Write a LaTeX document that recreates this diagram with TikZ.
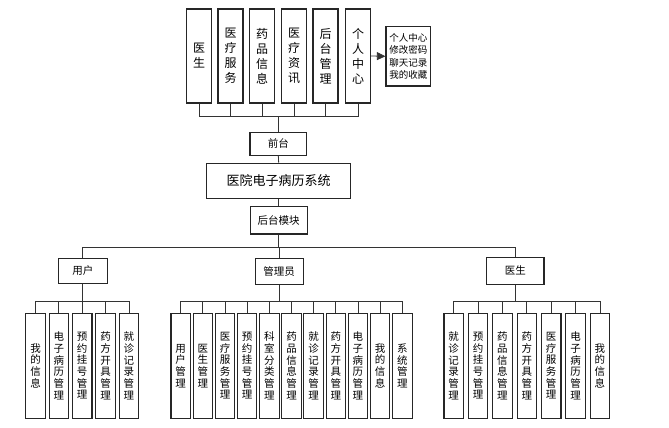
\documentclass[tikz,border=0pt]{standalone}
\usepackage{fontspec}
\setmainfont{Noto Sans CJK SC}
\usetikzlibrary{arrows.meta}
\begin{document}
\begin{tikzpicture}[x=1pt,y=-1pt,
  box/.style={draw=black!85,line width=1.1pt,fill=white,inner sep=0pt,align=center},
  topbox/.style={box,minimum width=25pt,minimum height=94pt,font=\fontsize{12}{15}\selectfont},
  vbox/.style={box,minimum width=19.5pt,minimum height=105pt,font=\fontsize{10.5}{11.7}\selectfont},
  midbox/.style={box,font=\fontsize{10.5}{12}\selectfont},
  conn/.style={draw=black!80,line width=0.8pt},
]
\useasboundingbox (0,0) rectangle (669,428);
% top row
\node[topbox] (t1) at (199,56) {医\\生};
\node[topbox] (t2) at (230.5,56) {医\\疗\\服\\务};
\node[topbox] (t3) at (262,56) {药\\品\\信\\息};
\node[topbox] (t4) at (294,56) {医\\疗\\资\\讯};
\node[topbox] (t5) at (325.5,56) {后\\台\\管\\理};
\node[topbox] (t6) at (358,56) {个\\人\\中\\心};
\node[box,minimum width=44.7pt,minimum height=59.3pt,font=\fontsize{9.5}{12.5}\selectfont] (pc) at (408.3,56.3) {个人中心\\修改密码\\聊天记录\\我的收藏};
\draw[conn,-{Triangle[length=8.5pt,width=8pt]}] (t6.east) -- (pc.west);
% middle
\node[midbox,minimum width=56.7pt,minimum height=22.7pt] (qt) at (278.3,143.7) {前台};
\node[box,minimum width=144pt,minimum height=35pt,font=\fontsize{13}{15}\selectfont] (sys) at (278.7,180.8) {医院电子病历系统};
\node[midbox,minimum width=57pt,minimum height=27.3pt] (hm) at (278.7,220.3) {后台模块};
\coordinate (busT) at (278.3,116.7);
\foreach \i in {1,...,6} {\draw[conn] (t\i.south) |- (busT);}
\draw[conn] (busT) -- (qt.north);
\draw[conn] (qt.south) -- (sys.north);
\draw[conn] (sys.south) -- (hm.north);
% level 2
\node[midbox,minimum width=49pt,minimum height=25.5pt] (u) at (82.8,271) {用户};
\node[midbox,minimum width=48.3pt,minimum height=26pt] (a) at (279.2,271.3) {管理员};
\node[midbox,minimum width=57.3pt,minimum height=27pt] (d) at (515.3,270.8) {医生};
\coordinate (bus2) at (278.7,247.7);
\draw[conn] (hm.south) -- (bus2);
\draw[conn] (bus2) -| (u.north);
\draw[conn] (bus2) -| (a.north);
\draw[conn] (bus2) -| (d.north);
% level 3 user
\foreach \t [count=\i] in {{我\\的\\信\\息},{电\\子\\病\\历\\管\\理},{预\\约\\挂\\号\\管\\理},{药\\方\\开\\具\\管\\理},{就\\诊\\记\\录\\管\\理}}
  {\node[vbox] (u\i) at ({35.5+23.35*(\i-1)},365.8) {\t};}
\coordinate (busU) at (82.8,301.7);
\draw[conn] (u.south) -- (busU);
\foreach \i in {1,...,5} {\draw[conn] (busU) -| (u\i.north);}
% level 3 admin
\foreach \t [count=\i] in {{用\\户\\管\\理},{医\\生\\管\\理},{医\\疗\\服\\务\\管\\理},{预\\约\\挂\\号\\管\\理},{科\\室\\分\\类\\管\\理},{药\\品\\信\\息\\管\\理},{就\\诊\\记\\录\\管\\理},{药\\方\\开\\具\\管\\理},{电\\子\\病\\历\\管\\理},{我\\的\\信\\息},{系\\统\\管\\理}}
  {\node[vbox] (a\i) at ({180.7+22.16*(\i-1)},365.8) {\t};}
\coordinate (busA) at (279.2,301.7);
\draw[conn] (a.south) -- (busA);
\foreach \i in {1,...,11} {\draw[conn] (busA) -| (a\i.north);}
% level 3 doctor
\foreach \t [count=\i] in {{就\\诊\\记\\录\\管\\理},{预\\约\\挂\\号\\管\\理},{药\\品\\信\\息\\管\\理},{药\\方\\开\\具\\管\\理},{医\\疗\\服\\务\\管\\理},{电\\子\\病\\历\\管\\理},{我\\的\\信\\息}}
  {\node[vbox] (d\i) at ({453.7+24.38*(\i-1)},365.8) {\t};}
\coordinate (busD) at (515.3,301.7);
\draw[conn] (d.south) -- (busD);
\foreach \i in {1,...,7} {\draw[conn] (busD) -| (d\i.north);}
\end{tikzpicture}
\end{document}
